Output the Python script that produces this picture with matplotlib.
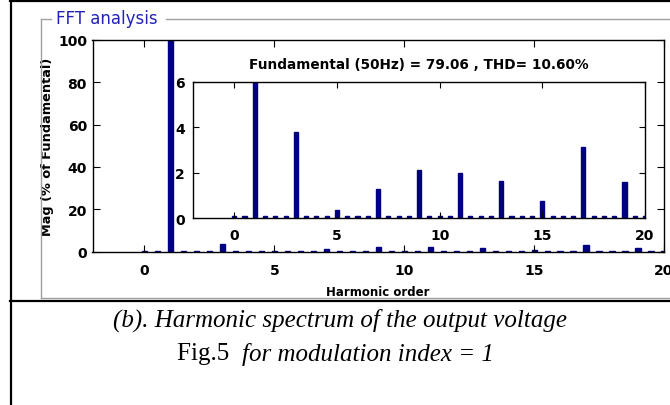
import numpy as np
import matplotlib
matplotlib.use('Agg')
import matplotlib.pyplot as plt
from matplotlib.lines import Line2D

# harmonic order (bars every half harmonic, fundamental = 50 Hz)
harm = np.arange(0, 20.5, 0.5)

# magnitude in % of fundamental
odd_order = [1, 3, 5, 7, 9, 11, 13, 15, 17, 19]
odd_mag = [100.0, 3.8, 0.37, 1.27, 2.12, 2.0, 1.64, 0.78, 3.12, 1.6]
floor_mag = 0.1

mag = [floor_mag] * len(harm)
for h, m in zip(odd_order, odd_mag):
    mag[int(h * 2)] = m

title_txt = 'Fundamental (50Hz) = 79.06 , THD= 10.60%'
main_yticks = [0, 20, 40, 60, 80, 100]
inset_yticks = [0, 2, 4, 6]
xticks = [0, 5, 10, 15, 20]

W, H = 670, 406
bar_col = '#000080'
gray = '#a0a0a0'

fig = plt.figure(figsize=(W / 100, H / 100), dpi=100)


def px_axes(x0, y0, x1, y1):
    return fig.add_axes([x0 / W, 1 - y1 / H, (x1 - x0) / W, (y1 - y0) / H])


def fig_line(xs, ys, color, lw):
    fig.add_artist(Line2D([x / W for x in xs], [1 - y / H for y in ys],
                          color=color, linewidth=lw, transform=fig.transFigure))


tick_font = dict(family='DejaVu Sans', weight='bold', size=10)

# main spectrum
ax = px_axes(92.5, 40.7, 664, 252.7)
ax.bar(harm, mag, width=0.2, color=bar_col, edgecolor=bar_col, linewidth=1.0)
ax.set_xlim(-2, 20)
ax.set_ylim(0, 100)
ax.set_xticks(xticks)
ax.set_yticks(main_yticks)
ax.tick_params(direction='in', length=5, top=True, right=True, width=0.8)
ax.tick_params(axis='x', pad=8)
ax.tick_params(axis='y', pad=4)
for lab in ax.get_xticklabels() + ax.get_yticklabels():
    lab.set_fontproperties(tick_font)
ax.set_xlabel('Harmonic order', fontfamily='DejaVu Sans', fontweight='bold',
              fontsize=8.5)
ax.xaxis.set_label_coords(0.5, -0.158)
ax.set_ylabel('Mag (% of Fundamental)', fontfamily='DejaVu Sans', fontweight='bold',
              fontsize=9.3, labelpad=3)
for s in ax.spines.values():
    s.set_linewidth(1.0)

# zoomed inset
ins = px_axes(193.2, 82.7, 645, 219.3)
ins.bar(harm, mag, width=0.2, color=bar_col, edgecolor=bar_col, linewidth=1.0)
ins.set_xlim(-2, 20)
ins.set_ylim(0, 6)
ins.set_xticks(xticks)
ins.set_yticks(inset_yticks)
ins.tick_params(direction='in', length=4, top=True, right=True, width=0.8)
ins.tick_params(axis='x', pad=7)
ins.tick_params(axis='y', pad=6)
for lab in ins.get_xticklabels() + ins.get_yticklabels():
    lab.set_fontproperties(tick_font)
ins.set_title(title_txt, fontfamily='DejaVu Sans', fontweight='bold', fontsize=9.8, pad=10)
for s in ins.spines.values():
    s.set_linewidth(1.0)

# panel frame ("FFT analysis" group box)
fig_line([41, 41], [20, 299], gray, 1.0)
fig_line([41, 51], [20, 20], gray, 1.0)
fig_line([166, 670], [20, 20], gray, 1.0)
fig_line([41, 670], [299, 299], gray, 1.0)
fig.text(56 / W, 1 - 19 / H, 'FFT analysis', color='#2222bb', fontfamily='DejaVu Sans',
         fontsize=12, va='center', ha='left')

# outer black borders
fig_line([10, 670], [1.5, 1.5], 'black', 1.6)
fig_line([11, 11], [0, 406], 'black', 1.6)
fig_line([10, 670], [301.5, 301.5], 'black', 1.6)

# caption
fig.text(340 / W, 1 - 320 / H, '(b). Harmonic spectrum of the output voltage',
         fontfamily='Liberation Serif', fontstyle='italic', fontsize=18,
         ha='center', va='center')
fig.text(242 / W, 1 - 354 / H, 'Fig.5  ', fontfamily='Liberation Serif', fontsize=18,
         ha='right', va='center')
fig.text(242 / W, 1 - 354 / H, 'for modulation index = 1', fontfamily='Liberation Serif',
         fontstyle='italic', fontsize=18, ha='left', va='center')

fig.savefig('out.png', dpi=100)
